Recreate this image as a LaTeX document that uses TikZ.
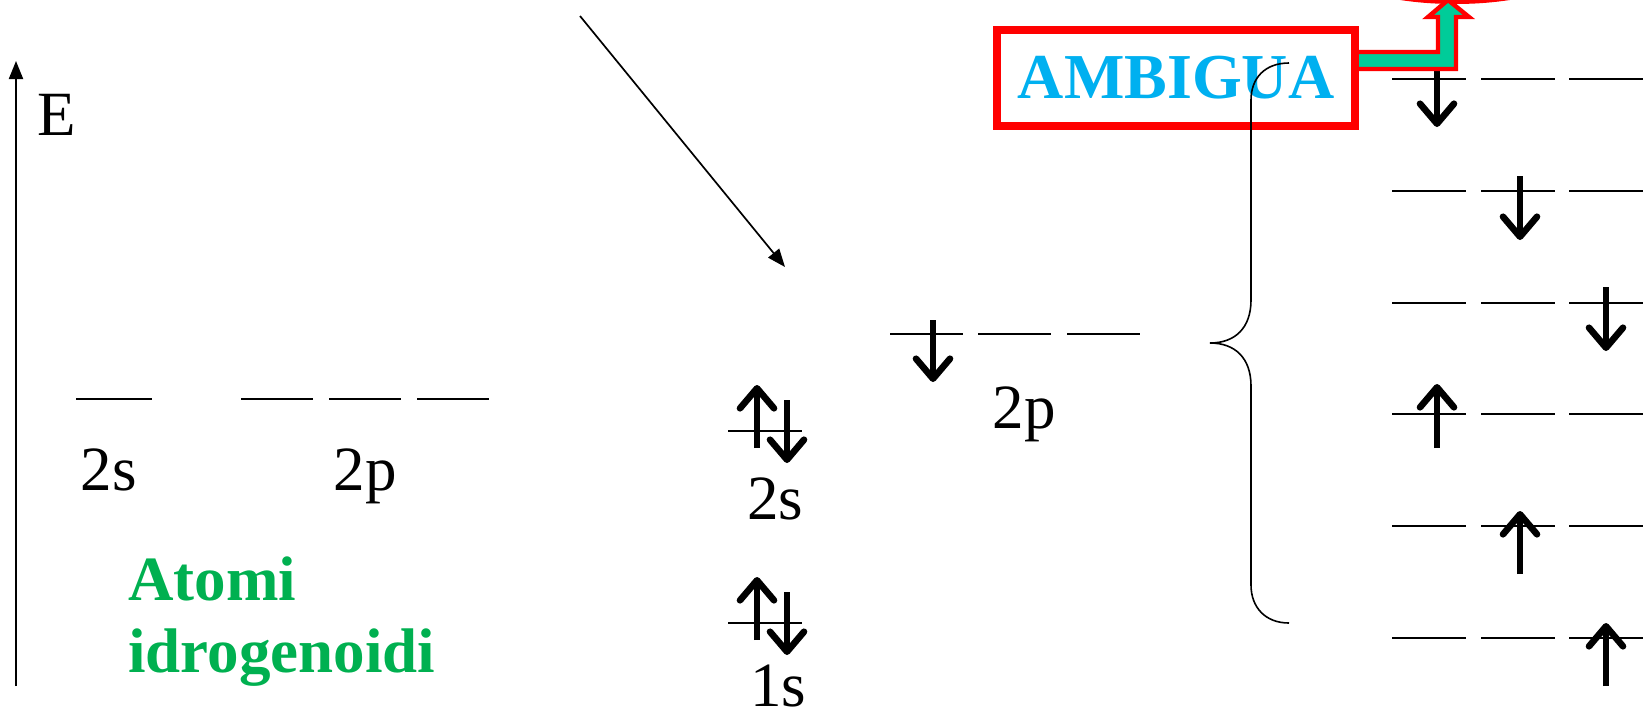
\documentclass[tikz,border=0pt]{standalone}
\usepackage{fontspec}
\setmainfont{Liberation Serif}
\usetikzlibrary{arrows.meta}
\definecolor{verdeT}{HTML}{00B050}
\definecolor{ciano}{HTML}{00B0F0}
\definecolor{verdeF}{HTML}{00CC99}

\tikzset{
  livello/.style={line width=1pt},
  spin/.style={line width=3.3pt,-{Straight Barb[length=10pt,width=17pt,line width=3.3pt,round]}},
  etich/.style={anchor=base,inner sep=0pt},
}

\begin{document}
\begin{tikzpicture}[x=0.5pt,y=-0.5pt,>={Triangle[length=9pt,width=7pt]},font=\fontsize{31.5}{36}\selectfont]
        \useasboundingbox (0,0) rectangle (1643,714);
        % --- asse dell'energia ---
        \coordinate (ax0) at (16,686);
        \coordinate (ax1) at (16,61);
        \draw[line width=1pt,->] (ax0) -- (ax1);
        \node[etich] (lblE) at (57,135) {E};
        % --- atomi idrogenoidi: 2s e 2p alla stessa energia ---
        \draw[livello] (76,399) -- (152,399);
        \foreach \a in {241,329,417}{\draw[livello] (\a,399) -- ++(72,0);}
        \node[etich] (h2s) at (109,490) {2s};
        \node[etich] (h2p) at (365,490) {2p};
        \node[anchor=north west,inner sep=0pt,align=left,text=verdeT,
              font=\fontsize{31.5}{36}\selectfont\bfseries] (idro) at (128,556) {Atomi\\idrogenoidi};
        % --- freccia obliqua ---
        \coordinate (dg0) at (580,16);
        \coordinate (dg1) at (785,267);
        \draw[line width=0.85pt,->] (dg0) -- (dg1);
        % --- 1s e 2s pieni ---
        \foreach \y in {431,623}{
            \draw[livello] (728,\y) -- (802,\y);
            \draw[spin] (757,\y+17) -- (757,\y-46);
            \draw[spin] (787,\y-31) -- (787,\y+32);}
        \node[etich] (m2s) at (775,519) {2s};
        \node[etich] (m1s) at (778,706) {1s};
        % --- 2p con un elettrone ---
        \foreach \a in {890,978,1067}{\draw[livello] (\a,334) -- ++(73,0);}
        \draw[spin] (933,320) -- (933,382);
        \node[etich] (m2p) at (1024,428) {2p};
        % --- le sei configurazioni ---
        \foreach \y in {79,191,303,414,526,638}{
            \foreach \a in {1392,1481,1569}{\draw[livello] (\a,\y) -- ++(74,0);}}
        \foreach \x/\a/\b in {1437/63/127,1520/176/240,1606/287/351,1437/448/384,1520/574/511,1606/686/623}
            {\draw[spin] (\x,\a) -- (\x,\b);}
        % --- ellisse in alto, tagliata dal bordo ---
        \begin{scope}
            \clip (0,0) rectangle (1643,714);
            \draw[red,line width=2pt] (1455,-38) ellipse [x radius=62.5pt,y radius=20pt];
        \end{scope}
        % --- freccia verde e riquadro ---
        \draw[red,line width=2.2pt,fill=verdeF] (1340,52) -- (1438,52) -- (1438,17) -- (1428,17) -- (1448,0)
            -- (1469,17) -- (1456,17) -- (1456,69) -- (1340,69) -- cycle;
        \node[draw=red,line width=4pt,fill=white,minimum width=179pt,minimum height=48pt,inner sep=0pt,
              text=ciano,font=\fontsize{32}{36}\selectfont\bfseries] (amb) at (1176,78) {AMBIGUA};
        % --- graffa ---
        \draw[line width=0.8pt] (1289,63) .. controls (1265,63) and (1251,78) .. (1251,100) -- (1251,300)
            .. controls (1251,328) and (1235,343) .. (1210,343) .. controls (1235,343) and (1251,358) .. (1251,386)
            -- (1251,585) .. controls (1251,607) and (1265,623) .. (1289,623);
    \end{tikzpicture}
\end{document}
